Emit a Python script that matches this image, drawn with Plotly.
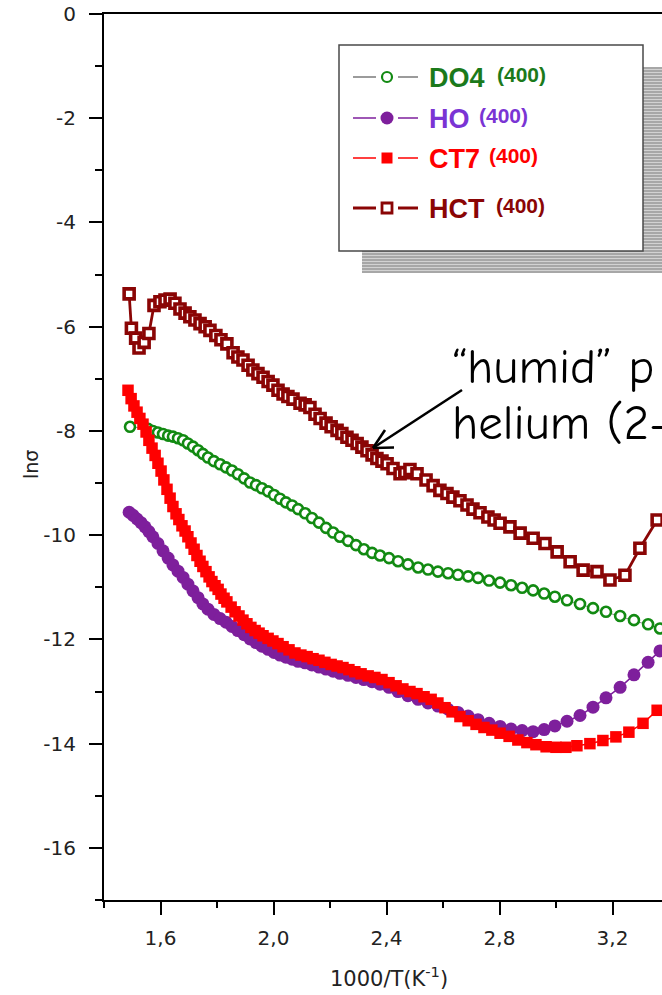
import plotly.graph_objects as go

# ---- series: ln(sigma) versus 1000/T (K^-1) ----
do4_x = [1.492, 1.556, 1.573, 1.591, 1.609, 1.627, 1.644, 1.662, 1.680, 1.697, 1.715, 1.733,
         1.750, 1.768, 1.789, 1.811, 1.832, 1.853, 1.874, 1.896, 1.917, 1.938, 1.959, 1.981,
         2.002, 2.023, 2.044, 2.066, 2.087, 2.112, 2.136, 2.161, 2.186, 2.211, 2.235, 2.264,
         2.292, 2.320, 2.349, 2.377, 2.409, 2.441, 2.476, 2.512, 2.547, 2.582, 2.618, 2.653,
         2.689, 2.724, 2.763, 2.802, 2.841, 2.880, 2.919, 2.958, 2.996, 3.039, 3.085, 3.131,
         3.177, 3.227, 3.276, 3.326, 3.368]
do4_y = [-7.92, -7.96, -8.00, -8.03, -8.06, -8.09, -8.11, -8.14, -8.18, -8.24, -8.30, -8.37,
         -8.44, -8.51, -8.58, -8.64, -8.70, -8.76, -8.83, -8.91, -8.99, -9.04, -9.10, -9.16,
         -9.23, -9.30, -9.37, -9.43, -9.50, -9.58, -9.67, -9.76, -9.86, -9.95, -10.03, -10.11,
         -10.19, -10.27, -10.34, -10.39, -10.44, -10.50, -10.56, -10.62, -10.66, -10.70, -10.73, -10.76,
         -10.79, -10.82, -10.87, -10.91, -10.96, -11.01, -11.06, -11.12, -11.18, -11.25, -11.32, -11.40,
         -11.47, -11.55, -11.63, -11.71, -11.79]

ho_x = [1.489, 1.503, 1.517, 1.531, 1.545, 1.559, 1.573, 1.591, 1.609, 1.627, 1.644, 1.662,
        1.680, 1.697, 1.715, 1.733, 1.750, 1.768, 1.789, 1.811, 1.832, 1.853, 1.874, 1.896,
        1.917, 1.938, 1.959, 1.981, 2.002, 2.023, 2.044, 2.066, 2.087, 2.112, 2.136, 2.161,
        2.186, 2.211, 2.235, 2.264, 2.292, 2.320, 2.349, 2.377, 2.409, 2.441, 2.476, 2.512,
        2.547, 2.582, 2.618, 2.653, 2.689, 2.724, 2.763, 2.802, 2.841, 2.880, 2.919, 2.958,
        2.996, 3.039, 3.085, 3.131, 3.177, 3.227, 3.276, 3.326, 3.368]
ho_y = [-9.56, -9.62, -9.69, -9.76, -9.84, -9.93, -10.03, -10.16, -10.30, -10.44, -10.57, -10.69,
        -10.81, -10.94, -11.07, -11.20, -11.32, -11.42, -11.52, -11.60, -11.67, -11.75, -11.83, -11.91,
        -11.99, -12.06, -12.13, -12.19, -12.25, -12.30, -12.34, -12.38, -12.42, -12.45, -12.49, -12.53,
        -12.57, -12.61, -12.65, -12.69, -12.73, -12.77, -12.81, -12.86, -12.92, -13.00, -13.08, -13.15,
        -13.22, -13.28, -13.34, -13.40, -13.47, -13.54, -13.61, -13.67, -13.72, -13.75, -13.77, -13.73,
        -13.66, -13.57, -13.46, -13.30, -13.12, -12.92, -12.68, -12.44, -12.22]

ct7_x = [1.485, 1.496, 1.506, 1.517, 1.527, 1.538, 1.549, 1.559, 1.570, 1.581, 1.591, 1.602,
         1.612, 1.623, 1.634, 1.644, 1.655, 1.665, 1.676, 1.687, 1.697, 1.708, 1.719, 1.729,
         1.740, 1.750, 1.761, 1.772, 1.782, 1.793, 1.804, 1.814, 1.825, 1.835, 1.850, 1.864,
         1.878, 1.892, 1.906, 1.920, 1.935, 1.949, 1.963, 1.981, 1.998, 2.016, 2.034, 2.055,
         2.076, 2.097, 2.119, 2.140, 2.161, 2.182, 2.204, 2.225, 2.246, 2.267, 2.288, 2.310,
         2.335, 2.359, 2.384, 2.409, 2.434, 2.458, 2.483, 2.508, 2.533, 2.558, 2.582, 2.607,
         2.632, 2.660, 2.689, 2.717, 2.745, 2.773, 2.802, 2.834, 2.865, 2.897, 2.929, 2.965,
         3.000, 3.035, 3.074, 3.120, 3.166, 3.212, 3.258, 3.308, 3.358]
ct7_y = [-7.22, -7.38, -7.52, -7.64, -7.76, -7.87, -8.02, -8.18, -8.33, -8.47, -8.62, -8.77,
         -8.94, -9.12, -9.29, -9.45, -9.59, -9.70, -9.82, -9.92, -10.03, -10.15, -10.27, -10.39,
         -10.50, -10.60, -10.70, -10.80, -10.89, -10.97, -11.04, -11.13, -11.21, -11.28, -11.38, -11.47,
         -11.55, -11.63, -11.70, -11.77, -11.83, -11.88, -11.93, -11.98, -12.03, -12.08, -12.14, -12.20,
         -12.26, -12.30, -12.33, -12.37, -12.40, -12.44, -12.48, -12.51, -12.54, -12.58, -12.62, -12.66,
         -12.70, -12.73, -12.77, -12.83, -12.89, -12.95, -13.00, -13.04, -13.10, -13.15, -13.22, -13.31,
         -13.39, -13.48, -13.56, -13.63, -13.69, -13.74, -13.80, -13.86, -13.93, -13.98, -14.02, -14.06,
         -14.07, -14.07, -14.04, -14.00, -13.94, -13.87, -13.78, -13.61, -13.36]

hct_x = [1.489, 1.497, 1.512, 1.524, 1.542, 1.559, 1.577, 1.598, 1.616, 1.634, 1.651, 1.669,
         1.687, 1.704, 1.722, 1.740, 1.758, 1.775, 1.796, 1.814, 1.835, 1.857, 1.874, 1.892,
         1.910, 1.927, 1.945, 1.963, 1.981, 1.998, 2.016, 2.034, 2.051, 2.069, 2.094, 2.112,
         2.129, 2.147, 2.165, 2.186, 2.204, 2.225, 2.242, 2.260, 2.278, 2.296, 2.313, 2.331,
         2.349, 2.366, 2.384, 2.402, 2.423, 2.448, 2.465, 2.483, 2.508, 2.540, 2.565, 2.589,
         2.614, 2.635, 2.660, 2.685, 2.706, 2.731, 2.759, 2.781, 2.802, 2.837, 2.873, 2.919,
         2.961, 3.004, 3.050, 3.096, 3.145, 3.191, 3.244, 3.297, 3.358]
hct_y = [-5.37, -6.03, -6.22, -6.41, -6.30, -6.13, -5.59, -5.52, -5.49, -5.47, -5.55, -5.66,
         -5.74, -5.81, -5.87, -5.94, -6.00, -6.07, -6.17, -6.25, -6.33, -6.50, -6.58, -6.64,
         -6.74, -6.83, -6.90, -6.97, -7.05, -7.12, -7.22, -7.29, -7.34, -7.39, -7.47, -7.50,
         -7.55, -7.68, -7.76, -7.85, -7.92, -7.99, -8.05, -8.12, -8.18, -8.24, -8.31, -8.38,
         -8.46, -8.53, -8.58, -8.63, -8.72, -8.82, -8.80, -8.74, -8.82, -8.94, -9.05, -9.14,
         -9.20, -9.27, -9.34, -9.42, -9.50, -9.57, -9.65, -9.71, -9.77, -9.84, -9.96, -10.06,
         -10.16, -10.32, -10.51, -10.67, -10.70, -10.86, -10.77, -10.25, -9.71]

series_names = ["DO4", "HO", "CT7", "HCT"]
series_tag = "(400)"

x_tick_vals = [1.6, 2.0, 2.4, 2.8, 3.2]
x_tick_text = ["1,6", "2,0", "2,4", "2,8", "3,2"]
x_minor_vals = [1.4, 1.8, 2.2, 2.6, 3.0]
y_tick_vals = [0, -2, -4, -6, -8, -10, -12, -14, -16]
y_tick_text = ["0", "-2", "-4", "-6", "-8", "-10", "-12", "-14", "-16"]
y_minor_vals = [-1, -3, -5, -7, -9, -11, -13, -15, -17]

GREEN = "#128a12"
GREEN_TXT = "#1b7a1b"
PURPLE = "#7e1f9c"
PURPLE_TXT = "#7a34d4"
RED = "#ff0000"
DARKRED = "#8a0505"
AXIS_FONT = "DejaVu Sans, Liberation Sans, Arial"

W, H = 662, 995
L, R, T, B = 104, 0, 14, 95
XPX = 282.5  # pixels per x unit
x_lo = 1.4
x_hi = x_lo + (W - L - R) / XPX

fig = go.Figure()

fig.add_trace(go.Scatter(x=do4_x, y=do4_y, mode="lines+markers", name=series_names[0],
                         line=dict(color="#8c8c8c", width=1),
                         marker=dict(symbol="circle", size=10, color="white",
                                     line=dict(color=GREEN, width=2.6))))
fig.add_trace(go.Scatter(x=ho_x, y=ho_y, mode="lines+markers", name=series_names[1],
                         line=dict(color=PURPLE, width=1.5),
                         marker=dict(symbol="circle", size=13, color=PURPLE,
                                     line=dict(width=0))))
fig.add_trace(go.Scatter(x=ct7_x, y=ct7_y, mode="lines+markers", name=series_names[2],
                         line=dict(color=RED, width=1.5),
                         marker=dict(symbol="square", size=11.5, color=RED,
                                     line=dict(width=0))))
fig.add_trace(go.Scatter(x=hct_x, y=hct_y, mode="lines+markers", name=series_names[3],
                         line=dict(color=DARKRED, width=2.8),
                         marker=dict(symbol="square", size=10, color="white",
                                     line=dict(color=DARKRED, width=3.6))))

# ---- framed legend with striped drop shadow (pixel-space overlay axes) ----
shapes = []
box = (339, 45, 643, 251)
shadow = (362, 67, 700, 273)
shapes.append(dict(type="rect", xref="x2", yref="y2", x0=shadow[0], x1=shadow[2],
                   y0=shadow[1], y1=shadow[3], fillcolor="#d2d2d2", line=dict(width=0),
                   layer="below"))
yy = shadow[1] + 1
while yy < shadow[3]:
    shapes.append(dict(type="line", xref="x2", yref="y2", x0=shadow[0], x1=shadow[2],
                       y0=yy, y1=yy, line=dict(color="#7c7c7c", width=1.2), layer="below"))
    yy += 3
shapes.append(dict(type="rect", xref="x2", yref="y2", x0=box[0], x1=box[2],
                   y0=box[1], y1=box[3], fillcolor="white",
                   line=dict(color="#4a4a4a", width=1.5), layer="below"))

rows_y = [77, 118, 158, 208]
line_cols = ["#7a7a7a", PURPLE, RED, DARKRED]
line_w = [1.5, 1.5, 1.5, 3]
text_cols = [GREEN_TXT, PURPLE_TXT, RED, DARKRED]
sup_x = [495, 477, 487, 494]
sym_x = 387
for i, ry in enumerate(rows_y):
    for a, b in ((353, 376), (398, 418)):
        shapes.append(dict(type="line", xref="x2", yref="y2", x0=a, x1=b, y0=ry, y1=ry,
                           line=dict(color=line_cols[i], width=line_w[i]), layer="below"))

legend_markers = [
    dict(symbol="circle", size=10, color="white", line=dict(color=GREEN, width=2.2)),
    dict(symbol="circle", size=13, color=PURPLE, line=dict(width=0)),
    dict(symbol="square", size=11, color=RED, line=dict(width=0)),
    dict(symbol="square", size=10, color="white", line=dict(color=DARKRED, width=2.8)),
]
for i, ry in enumerate(rows_y):
    fig.add_trace(go.Scatter(x=[sym_x], y=[ry], mode="markers", marker=legend_markers[i],
                             xaxis="x2", yaxis="y2", showlegend=False, hoverinfo="skip"))

annotations = []
for i, ry in enumerate(rows_y):
    annotations.append(dict(xref="x2", yref="y2", x=427, y=ry + 1, xanchor="left",
                            yanchor="middle", showarrow=False,
                            text="<b>%s</b>" % series_names[i],
                            font=dict(family="Liberation Sans, Arial", size=27,
                                      color=text_cols[i])))
    annotations.append(dict(xref="x2", yref="y2", x=sup_x[i], y=ry - 3, xanchor="left",
                            yanchor="middle", showarrow=False,
                            text="<b>%s</b>" % series_tag,
                            font=dict(family="Liberation Sans, Arial", size=21,
                                      color=text_cols[i])))

# ---- call-out text and arrow ----
note_font = dict(family="Comic Sans MS, Comic Neue, Lato, sans-serif", size=49, color="black")
annotations.append(dict(xref="x2", yref="y2", x=450, y=367, xanchor="left", yanchor="middle",
                        showarrow=False, text="\u201chumid\u201d p", font=note_font))
annotations.append(dict(xref="x2", yref="y2", x=450, y=423, xanchor="left", yanchor="middle",
                        showarrow=False, text="helium (2-", font=note_font))
tip = (373, 448)
for (x0, y0) in ((462, 390), (394, 447.5), (385, 430)):
    shapes.append(dict(type="line", xref="x2", yref="y2", x0=x0, y0=y0, x1=tip[0], y1=tip[1],
                       line=dict(color="black", width=2.6), layer="above"))

# ---- axis titles ----
annotations.append(dict(xref="x2", yref="paper", x=389, y=0, yshift=-77, xanchor="center",
                        yanchor="middle", showarrow=False,
                        text="1000/T(K<sup>-1</sup>)",
                        font=dict(family=AXIS_FONT, size=21, color="#222")))
annotations.append(dict(xref="paper", yref="y2", x=0, xshift=-73, y=465, xanchor="center",
                        yanchor="middle", showarrow=False, textangle=-90,
                        text="ln\u03c3",
                        font=dict(family=AXIS_FONT, size=19, color="#222")))

tick_font = dict(family=AXIS_FONT, size=20, color="#222")
fig.update_layout(
    width=W, height=H,
    margin=dict(l=L, r=R, t=T, b=B, pad=0),
    paper_bgcolor="white", plot_bgcolor="white",
    showlegend=False,
    shapes=shapes,
    annotations=annotations,
    xaxis=dict(range=[x_lo, x_hi], tickmode="array", tickvals=x_tick_vals, ticktext=x_tick_text,
               ticks="outside", ticklen=13, tickwidth=2, tickcolor="black",
               showline=True, linewidth=2, linecolor="black", mirror=True,
               showgrid=False, zeroline=False, tickfont=tick_font, ticklabelstandoff=6,
               minor=dict(tickmode="array", tickvals=x_minor_vals, ticks="outside", ticklen=6,
                          tickwidth=2, tickcolor="black", showgrid=False)),
    yaxis=dict(range=[-17, 0], tickmode="array", tickvals=y_tick_vals, ticktext=y_tick_text,
               ticks="outside", ticklen=13, tickwidth=2, tickcolor="black",
               showline=True, linewidth=2, linecolor="black",
               showgrid=False, zeroline=False, tickfont=tick_font, ticklabelstandoff=9,
               minor=dict(tickmode="array", tickvals=y_minor_vals, ticks="outside", ticklen=7,
                          tickwidth=2, tickcolor="black", showgrid=False)),
    xaxis2=dict(range=[L, W - R], overlaying="x", anchor="y2", visible=False),
    yaxis2=dict(range=[H - B, T], overlaying="y", anchor="x2", visible=False),
)

fig.write_html("out.html")
